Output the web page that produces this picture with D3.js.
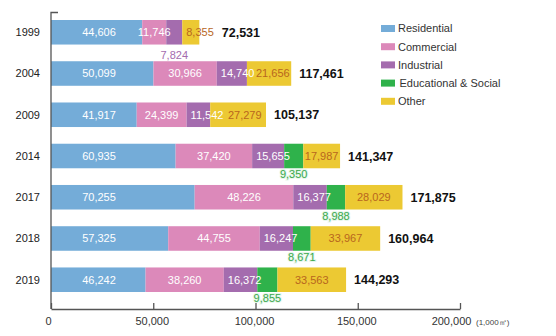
<!DOCTYPE html>
<html>
<head>
<meta charset="utf-8">
<script src="https://cdn.jsdelivr.net/npm/d3@7"></script>
<style>
  html, body { margin: 0; padding: 0; background: #fff; }
  svg { display: block; font-family: "Liberation Sans", Arial, Helvetica, sans-serif; }
</style>
</head>
<body>
<svg id="chart" width="556" height="336"></svg>
<script>
// Floor area by building use (1,000㎡)
const years = ["1999", "2004", "2009", "2014", "2017", "2018", "2019"];
const seriesNames = ["Residential", "Commercial", "Industrial", "Educational & Social", "Other"];
const residential = [44606, 50099, 41917, 60935, 70255, 57325, 46242];
const commercial  = [11746, 30966, 24399, 37420, 48226, 44755, 38260];
const industrial  = [7824, 14740, 11542, 15655, 16377, 16247, 16372];
const educational = [0, 0, 0, 9350, 8988, 8671, 9855];
const other       = [8355, 21656, 27279, 17987, 28029, 33967, 33563];
const totals      = [72531, 117461, 105137, 141347, 171875, 160964, 144293];
const xTicks      = [0, 50000, 100000, 150000, 200000];

const colors = ["#74acd8", "#dc89ba", "#a46cae", "#2fb24b", "#ecc933"];
const seriesValues = [residential, commercial, industrial, educational, other];

const rows = years.map((y, i) => {
  const r = { year: y, total: totals[i] };
  seriesNames.forEach((s, k) => r[s] = seriesValues[k][i]);
  return r;
});

const svg = d3.select("#chart");
const x = d3.scaleLinear().domain([0, 200000]).range([51, 460]);
const y = d3.scaleBand().domain(years).range([20, 292]).paddingInner(0.405).paddingOuter(0);

const stacked = d3.stack().keys(seriesNames)(rows);

const fmt = d3.format(",");

// bars
const layers = svg.append("g").selectAll("g")
  .data(stacked).join("g")
  .attr("fill", (d, i) => colors[i]);

layers.selectAll("rect")
  .data(d => d.filter(p => p[1] - p[0] > 0))
  .join("rect")
  .attr("x", d => x(d[0]))
  .attr("y", d => y(d.data.year))
  .attr("width", d => x(d[1]) - x(d[0]))
  .attr("height", y.bandwidth());

// segment labels
const labelG = svg.append("g").attr("font-size", 11);
const overflowEnd = {};
stacked.forEach((layer, k) => {
  layer.forEach(p => {
    const v = p[1] - p[0];
    if (v <= 0) return;
    const yr = p.data.year;
    const x0 = x(p[0]), x1 = x(p[1]);
    const w = x1 - x0;
    const cy = y(yr) + y.bandwidth() / 2;
    const t = labelG.append("text").text(fmt(v));
    if (k === 3) {
      // narrow segment: value sits below the bar
      t.attr("x", (x0 + x1) / 2).attr("y", y(yr) + y.bandwidth() + 10)
        .attr("text-anchor", "middle").attr("fill", "#3aa84c")
        .attr("stroke", "#e6f6ea").attr("stroke-width", 2).attr("paint-order", "stroke");
      return;
    }
    if (k === 2 && w < 20) {
      t.attr("x", (x0 + x1) / 2).attr("y", y(yr) + y.bandwidth() + 14)
        .attr("text-anchor", "middle").attr("fill", "#a46cae");
      return;
    }
    const fill = k === 4 ? "#b8661e" : "#ffffff";
    t.attr("fill", fill).attr("y", cy).attr("dy", "0.36em");
    const tw = t.node().getComputedTextLength();
    const start = Math.max(x0, overflowEnd[yr] || 0);
    if (k === 0) {
      t.attr("x", x0 + 48).attr("text-anchor", "middle");
    } else if (w < tw + 2 && k !== 1) {
      t.attr("x", start + 4).attr("text-anchor", "start");
      overflowEnd[yr] = start + 4 + tw;
    } else {
      t.attr("x", (start + x1) / 2).attr("text-anchor", "middle");
    }
  });
});

// totals
svg.append("g").selectAll("text")
  .data(rows).join("text")
  .attr("x", d => Math.max(x(d3.sum(seriesNames, s => d[s])), overflowEnd[d.year] || 0) + 8)
  .attr("y", d => y(d.year) + y.bandwidth() / 2)
  .attr("dy", "0.36em")
  .attr("font-size", 12.5).attr("font-weight", "bold").attr("fill", "#111")
  .text(d => fmt(d.total));

// year labels
svg.append("g").selectAll("text")
  .data(years).join("text")
  .attr("x", 40)
  .attr("y", d => y(d) + y.bandwidth() / 2)
  .attr("dy", "0.36em")
  .attr("text-anchor", "end")
  .attr("font-size", 11).attr("fill", "#222")
  .text(d => d);

// x axis
const xAxis = svg.append("g")
  .attr("transform", "translate(0,309)")
  .call(d3.axisBottom(x).tickValues(xTicks).tickFormat(fmt).tickSize(-6).tickSizeOuter(0).tickPadding(8));
xAxis.select(".domain").attr("stroke", "#555").attr("stroke-width", 1.3);
xAxis.selectAll(".tick line").attr("stroke", "#555").attr("stroke-width", 1.3);
xAxis.selectAll(".tick text").attr("font-size", 11).attr("fill", "#333")
  .attr("font-family", "'Liberation Sans', Arial, sans-serif")
  .attr("dx", (d, i) => i === xTicks.length - 1 ? -9 : (i === 0 ? -3 : -1.5));
svg.append("text")
  .attr("x", 476).attr("y", 324.5)
  .attr("font-size", 8).attr("fill", "#444")
  .text("(1,000㎡)");

// y axis line
svg.append("path")
  .attr("d", `M${x(0) + 7},12.5H${x(0)}V309`)
  .attr("fill", "none").attr("stroke", "#555").attr("stroke-width", 1.3);

// legend
const legend = svg.append("g").attr("transform", "translate(381,25)");
const li = legend.selectAll("g").data(seriesNames).join("g")
  .attr("transform", (d, i) => `translate(0,${i * 18.2})`);
li.append("rect").attr("width", 14).attr("height", 7).attr("fill", (d, i) => colors[i]);
li.append("text")
  .attr("x", (d, i) => i === 3 ? 18.5 : 17).attr("y", 3.5).attr("dy", "0.36em")
  .attr("font-size", 11).attr("fill", "#333")
  .text(d => d);
</script>
</body>
</html>
